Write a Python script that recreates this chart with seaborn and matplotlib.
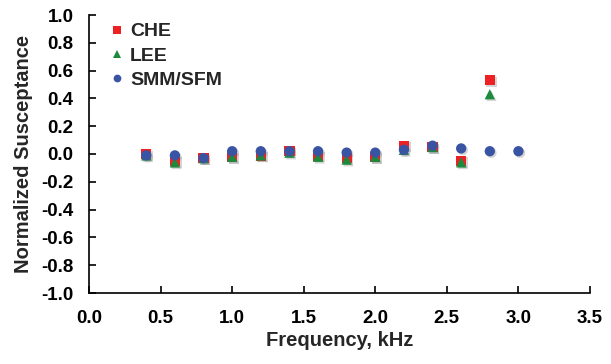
import matplotlib
matplotlib.use("Agg")
import matplotlib.pyplot as plt
import matplotlib.patheffects as pe
import seaborn as sns
import pandas as pd

# Frequencies (kHz) and normalized susceptance for each method
freq_che = [0.4, 0.6, 0.8, 1.0, 1.2, 1.4, 1.6, 1.8, 2.0, 2.2, 2.4, 2.6, 2.8]
che = [0.00, -0.05, -0.03, -0.02, -0.01, 0.02, -0.01, -0.03, -0.02, 0.06, 0.05, -0.05, 0.53]

freq_lee = [0.4, 0.6, 0.8, 1.0, 1.2, 1.4, 1.6, 1.8, 2.0, 2.2, 2.4, 2.6, 2.8]
lee = [-0.01, -0.06, -0.03, -0.02, -0.01, 0.01, -0.02, -0.04, -0.02, 0.03, 0.05, -0.06, 0.43]

freq_smm = [0.4, 0.6, 0.8, 1.0, 1.2, 1.4, 1.6, 1.8, 2.0, 2.2, 2.4, 2.6, 2.8, 3.0]
smm = [-0.01, -0.01, -0.03, 0.02, 0.02, 0.02, 0.02, 0.01, 0.01, 0.03, 0.06, 0.04, 0.02, 0.02]

methods = ["CHE", "LEE", "SMM/SFM"]
colors = ["#ed2024", "#1c8a3c", "#3a54a4"]
markers = ["s", "^", "o"]

x_ticks = [0.0, 0.5, 1.0, 1.5, 2.0, 2.5, 3.0, 3.5]
y_ticks = [-1.0, -0.8, -0.6, -0.4, -0.2, 0.0, 0.2, 0.4, 0.6, 0.8, 1.0]

df = pd.concat([
    pd.DataFrame({"Frequency": freq_che, "Susceptance": che, "Method": "CHE"}),
    pd.DataFrame({"Frequency": freq_lee, "Susceptance": lee, "Method": "LEE"}),
    pd.DataFrame({"Frequency": freq_smm, "Susceptance": smm, "Method": "SMM/SFM"}),
], ignore_index=True)

sns.set_style("ticks")
plt.rcParams["font.family"] = ["Liberation Sans", "DejaVu Sans"]
plt.rcParams["font.weight"] = "bold"

fig = plt.figure(figsize=(6.11, 3.64), dpi=100)
ax = fig.add_axes([89 / 611, 71 / 364, 501 / 611, 278 / 364])

sns.scatterplot(
    data=df, x="Frequency", y="Susceptance", hue="Method", style="Method",
    hue_order=methods, style_order=methods,
    palette=dict(zip(methods, colors)), markers=dict(zip(methods, markers)),
    s=55, edgecolor="none", linewidth=0, ax=ax, zorder=3,
)
# soft drop shadow under the markers
for coll in ax.collections:
    coll.set_path_effects([
        pe.SimplePatchShadow(offset=(1.2, -1.2), shadow_rgbFace="#888888", alpha=0.35),
        pe.Normal(),
    ])

ax.set_xlim(0, 3.5)
ax.set_ylim(-1.0, 1.0)
ax.set_xticks(x_ticks)
ax.set_yticks(y_ticks)
ax.set_xticklabels([f"{v:.1f}" for v in x_ticks], fontsize=13.5, fontweight="bold")
ax.set_yticklabels([f"{v:.1f}" for v in y_ticks], fontsize=13.5, fontweight="bold")
ax.tick_params(direction="in", length=5, width=1.2, colors="black")
ax.tick_params(axis="x", pad=12)
ax.tick_params(axis="y", pad=11)
for side in ["top", "right"]:
    ax.spines[side].set_visible(False)
for side in ["left", "bottom"]:
    ax.spines[side].set_linewidth(1.2)
    ax.spines[side].set_color("black")

ax.set_xlabel("Frequency, kHz", fontsize=14.5, fontweight="bold", labelpad=3)
ax.set_ylabel("Normalized Susceptance", fontsize=14.5, fontweight="bold", labelpad=6)

leg = ax.legend(
    loc="upper left", bbox_to_anchor=(0.02, 1.0), frameon=False,
    fontsize=14, handlelength=1.0, handletextpad=0.2, labelspacing=0.35,
    markerscale=0.75, borderaxespad=0.0,
)
for t in leg.get_texts():
    t.set_fontweight("bold")

fig.savefig("out.png", dpi=100)
